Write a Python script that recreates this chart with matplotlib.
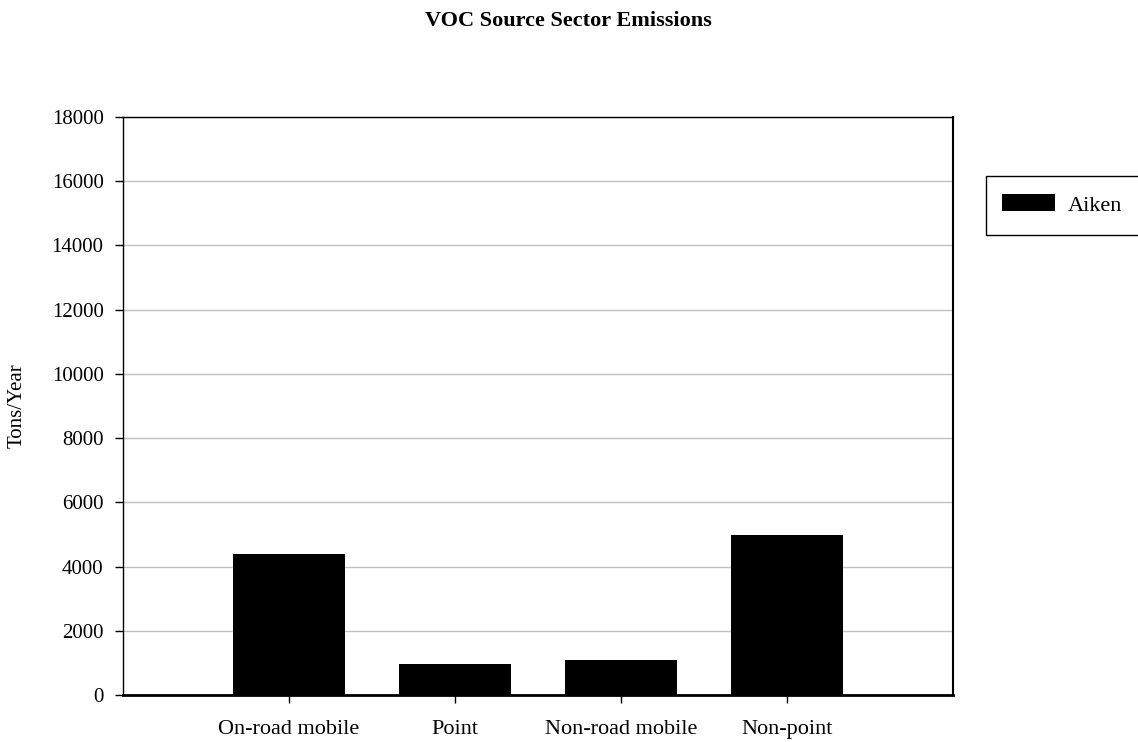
import matplotlib.pyplot as plt
from matplotlib.patches import Rectangle
import numpy as np

plt.rcParams["font.family"] = ["Liberation Serif", "DejaVu Serif"]

sectors = ["On-road mobile", "Point", "Non-road mobile", "Non-point"]
aiken = [4400, 960, 1085, 4980]

fig = plt.figure(figsize=(11.38, 7.42), dpi=100)
ax = fig.add_axes([123 / 1138, 1 - 695 / 742, 830 / 1138, 578 / 742])

x = np.arange(len(sectors))
ax.bar(x, aiken, width=0.675, color="black", label="Aiken", zorder=3)

ax.set_xlim(-1, 4)
ax.set_ylim(0, 18000)
ax.set_yticks(np.arange(0, 18001, 2000))
ax.set_xticks(x)
ax.set_xticklabels(sectors, fontsize=16)
ax.tick_params(axis="y", labelsize=15, length=6, width=1, direction="out", pad=8)
ax.tick_params(axis="x", length=6, width=1, direction="out", pad=12)
ax.grid(axis="y", color="#c0c0c0", lw=1, zorder=0)

for s in ax.spines.values():
    s.set_linewidth(1)
    s.set_color("black")
ax.spines["bottom"].set_linewidth(2)
ax.spines["right"].set_linewidth(1.5)

ax.set_ylabel("Tons/Year", fontsize=15, labelpad=18)
fig.text(568 / 1138, 1 - 21 / 742, "VOC Source Sector Emissions",
         ha="center", va="center", fontsize=16, fontweight="bold")

# legend box runs past the right edge of the picture
fig.patches.append(Rectangle((986 / 1138, 1 - 235 / 742), 200 / 1138, 59 / 742,
                             transform=fig.transFigure, fill=False,
                             edgecolor="black", lw=1))
leg = ax.legend(loc="center left", bbox_to_anchor=(1002 / 1138, 1 - 205 / 742),
                bbox_transform=fig.transFigure, fontsize=16, frameon=False,
                borderpad=0, handlelength=2.4, handleheight=0.8,
                handletextpad=0.55, borderaxespad=0)

fig.savefig("out.png", dpi=100)
